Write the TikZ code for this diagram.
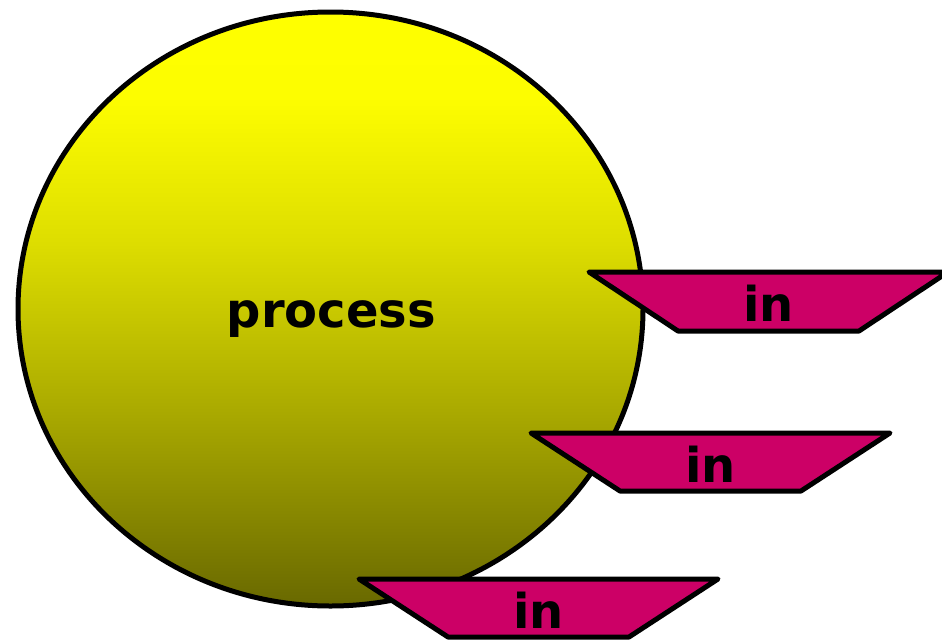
\documentclass[tikz,border=0pt]{standalone}
\usepackage{fontspec}
\setmainfont{DejaVu Sans}
\usetikzlibrary{shapes.geometric}
\pgfdeclareverticalshading{procshade}{100bp}{rgb(0bp)=(0.41,0.41,0); rgb(25bp)=(0.41,0.41,0); rgb(41.5bp)=(0.667,0.667,0); rgb(55.75bp)=(0.87,0.87,0); rgb(67.5bp)=(0.99,0.99,0); rgb(75bp)=(1,1,0); rgb(100bp)=(1,1,0)}
\definecolor{inmag}{RGB}{204,0,102}
\begin{document}
\begin{tikzpicture}[x=1pt,y=-1pt, line width=5pt, line join=round,
  inbox/.style={draw=black, fill=inmag},
  lbl/.style={font=\bfseries\fontsize{48}{50}\selectfont, anchor=base, inner sep=0pt}]
\useasboundingbox (0,0) rectangle (942,640);
\clip (0,0) rectangle (942,640);
\node[ellipse, draw=black, shade, shading=procshade, minimum width=625pt, minimum height=594pt, inner sep=0pt] (proc) at (330.5,309) {};
\node[lbl] (proctxt) at (331.5,327) {process};
% in 1
\path[inbox] (589,272) -- (948,272) -- (859,331) -- (678,331) -- cycle;
\node[lbl] (in1) at (768.5,321) {in};
% in 2
\path[inbox] (531,433) -- (890,433) -- (801,491) -- (620,491) -- cycle;
\node[lbl] (in2) at (710.5,482) {in};
% in 3
\path[inbox] (359,579) -- (718,579) -- (629,637) -- (448,637) -- cycle;
\node[lbl] (in3) at (538.5,628) {in};
\end{tikzpicture}
\end{document}
